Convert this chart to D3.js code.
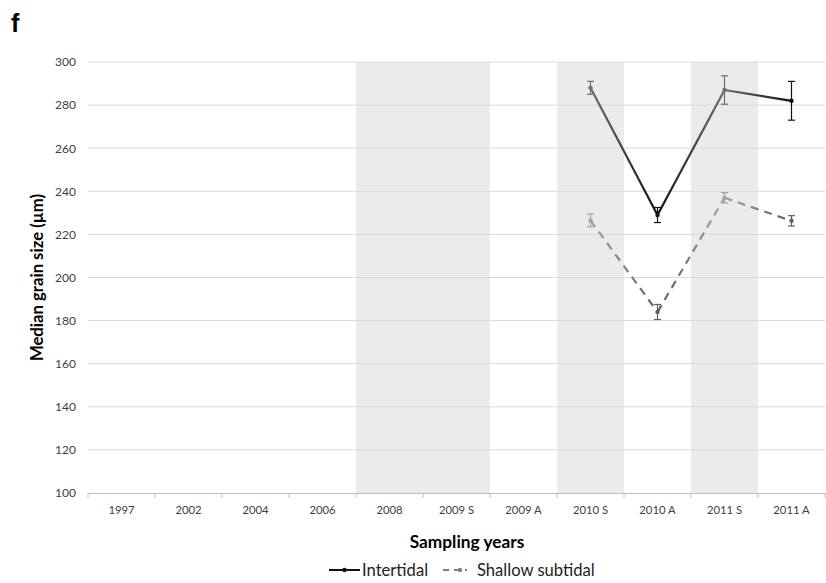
<!DOCTYPE html>
<html><head><meta charset="utf-8">
<script src="https://cdn.jsdelivr.net/npm/d3@7"></script>
<style>body{margin:0;background:#fff;} svg{display:block;}</style>
</head><body>
<svg id="c" width="826" height="583"></svg>
<script>
const categories = ["1997","2002","2004","2006","2008","2009 S","2009 A","2010 S","2010 A","2011 S","2011 A"];
const shaded = ["2008","2009 S","2010 S","2011 S"];
const yTicks = [100,120,140,160,180,200,220,240,260,280,300];
const intertidalCats = ["2010 S","2010 A","2011 S","2011 A"];
const intertidalVals = [288, 229, 287, 282];
const intertidalErr = [3, 3.5, 6.6, 9];
const subtidalCats = ["2010 S","2010 A","2011 S","2011 A"];
const subtidalVals = [226.5, 184, 237, 226.3];
const subtidalErr = [3, 3.5, 2.4, 2.4];

const svg = d3.select("#c");
const font = "Lato, 'Open Sans', sans-serif";
const x = d3.scaleBand().domain(categories).range([88, 825]);
const y = d3.scaleLinear().domain([100, 300]).range([493, 62]);

// shaded bands
svg.append("g").selectAll("rect").data(shaded).join("rect")
  .attr("x", d => x(d)).attr("y", y(300)).attr("width", x.bandwidth()).attr("height", y(100) - y(300))
  .attr("fill", "#ebebeb");

// gridlines
svg.append("g").selectAll("line").data(yTicks.filter(t => t > 100)).join("line")
  .attr("x1", 88).attr("x2", 825).attr("y1", d => y(d)).attr("y2", d => y(d))
  .attr("stroke", "#d9d9d9").attr("stroke-width", 1);

// y axis labels
const ya = svg.append("g").attr("transform", "translate(88,0)")
  .call(d3.axisLeft(y).tickValues(yTicks).tickSize(0).tickPadding(12));
ya.select(".domain").remove();
ya.selectAll("text").attr("font-family", font).attr("font-size", 12).attr("fill", "#404040");

// x axis
const xa = svg.append("g").attr("transform", `translate(0,${y(100)})`)
  .call(d3.axisBottom(x).tickSize(0).tickPadding(13));
xa.select(".domain").attr("stroke", "#bfbfbf");
xa.selectAll("text").attr("font-family", font).attr("font-size", 11.3).attr("fill", "#404040");
// boundary tick marks
const bounds = categories.map(c => x(c)).concat([x(categories[categories.length-1]) + x.bandwidth()]);
svg.append("g").selectAll("line").data(bounds).join("line")
  .attr("x1", d => d).attr("x2", d => d).attr("y1", y(100)).attr("y2", y(100) + 5)
  .attr("stroke", "#bfbfbf");

const cx = c => x(c) + x.bandwidth() / 2;
const defs = svg.append("defs");

function drawSeries(cats, vals, errs, colorFn, dashed, id) {
  const pts = cats.map((c, i) => ({c, v: vals[i], e: errs[i], col: colorFn(c)}));
  for (let i = 0; i < pts.length - 1; i++) {
    const a = pts[i], b = pts[i+1];
    const gid = id + "g" + i;
    const g = defs.append("linearGradient").attr("id", gid).attr("gradientUnits", "userSpaceOnUse")
      .attr("x1", cx(a.c)).attr("y1", y(a.v)).attr("x2", cx(b.c)).attr("y2", y(b.v));
    g.append("stop").attr("offset", "0%").attr("stop-color", a.col);
    g.append("stop").attr("offset", "100%").attr("stop-color", b.col);
    svg.append("path")
      .attr("d", d3.line()([[cx(a.c), y(a.v)], [cx(b.c), y(b.v)]]))
      .attr("stroke", `url(#${gid})`).attr("stroke-width", 2.2).attr("fill", "none")
      .attr("stroke-dasharray", dashed ? "8,6" : null);
  }
  const eg = svg.append("g");
  pts.forEach(p => {
    const X = cx(p.c);
    eg.append("line").attr("x1", X).attr("x2", X).attr("y1", y(p.v + p.e)).attr("y2", y(p.v - p.e)).attr("stroke", p.col).attr("stroke-width", 1.2);
    [p.v + p.e, p.v - p.e].forEach(v => eg.append("line").attr("x1", X - 3.5).attr("x2", X + 3.5).attr("y1", y(v)).attr("y2", y(v)).attr("stroke", p.col).attr("stroke-width", 1.2));
    eg.append("circle").attr("cx", X).attr("cy", y(p.v)).attr("r", 2.2).attr("fill", p.col);
  });
}
drawSeries(intertidalCats, intertidalVals, intertidalErr, c => c.endsWith("S") ? "#6e6e6e" : "#111111", false, "it");
drawSeries(subtidalCats, subtidalVals, subtidalErr, c => c.endsWith("S") ? "#a3a3a3" : "#606060", true, "st");

// panel letter
svg.append("text").attr("x", 11).attr("y", 32).text("f")
  .attr("font-family", "'Liberation Sans', Arial, sans-serif").attr("font-weight", "bold").attr("font-size", 25).attr("fill", "#000");

// axis titles
svg.append("text").attr("x", 467).attr("y", 548).attr("text-anchor", "middle").text("Sampling years")
  .attr("font-family", font).attr("font-weight", "bold").attr("font-size", 17.3).attr("fill", "#000");
svg.append("text").attr("transform", `translate(43,${(y(100)+y(300))/2}) rotate(-90)`).attr("text-anchor", "middle")
  .text("Median grain size (µm)").attr("font-family", font).attr("font-weight", "bold").attr("font-size", 16.7).attr("fill", "#000");

// legend
const lg = svg.append("g").attr("transform", "translate(0,570)");
lg.append("line").attr("x1", 329).attr("x2", 360).attr("y1", 0).attr("y2", 0).attr("stroke", "#111").attr("stroke-width", 2);
lg.append("circle").attr("cx", 344.5).attr("cy", 0).attr("r", 2.2).attr("fill", "#111");
lg.append("text").attr("x", 362).attr("y", 6).text("Intertidal").attr("font-family", font).attr("font-size", 16.6).attr("fill", "#222");
lg.append("line").attr("x1", 443).attr("x2", 467).attr("y1", 0).attr("y2", 0).attr("stroke", "#808080").attr("stroke-width", 2).attr("stroke-dasharray", "6,5");
lg.append("circle").attr("cx", 460).attr("cy", 0).attr("r", 2.2).attr("fill", "#808080");
lg.append("text").attr("x", 477).attr("y", 6).text("Shallow subtidal").attr("font-family", font).attr("font-size", 16.6).attr("fill", "#222");
</script>
</body></html>
